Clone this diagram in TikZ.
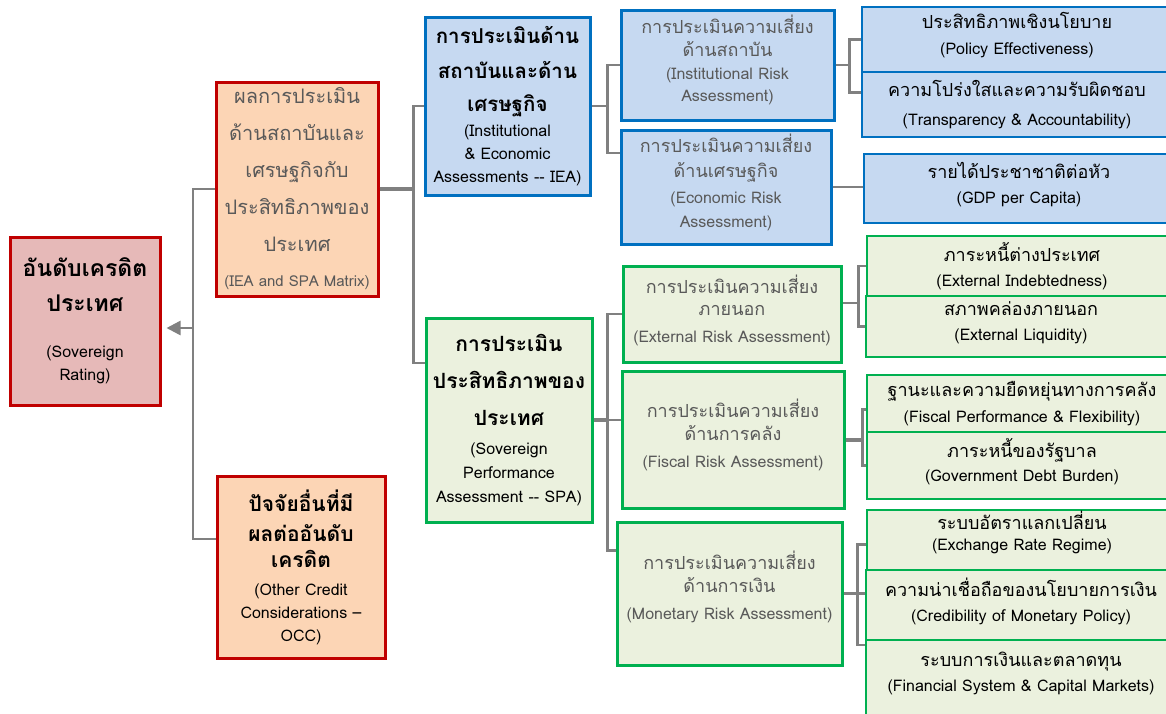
\documentclass[tikz,border=0pt]{standalone}
\usepackage{xcolor}
\usepackage{fontspec}
\setmainfont[Script=Thai]{Loma}
\usepackage{tikz}
\usetikzlibrary{positioning, arrows.meta}

\definecolor{redline}{RGB}{192,0,0}
\definecolor{rootfill}{RGB}{230,185,184}
\definecolor{peach}{RGB}{252,213,181}
\definecolor{blueline}{RGB}{0,112,192}
\definecolor{bluefill}{RGB}{198,217,241}
\definecolor{greenline}{RGB}{0,176,80}
\definecolor{greenfill}{RGB}{235,241,222}
\definecolor{greytext}{RGB}{89,89,89}
\definecolor{connline}{RGB}{128,128,128}

\newcommand\thb[2][21]{{\fontsize{#1}{24}\selectfont\bfseries #2}}
\newcommand\thm[2][18]{{\fontsize{#1}{24}\selectfont #2}}
\newcommand\en[1]{{\fontsize{16}{24}\selectfont #1}}
\newcommand\lift[1]{\\[#1pt]}

\tikzset{
  box/.style={draw, line width=3pt, align=center, inner sep=1pt, font=\fontsize{16}{24}\selectfont},
  rootbox/.style={box, draw=redline, fill=rootfill},
  matbox/.style={box, draw=redline, fill=peach},
  ieabox/.style={box, draw=blueline, fill=bluefill},
  spabox/.style={box, draw=greenline, fill=greenfill},
  leafblue/.style={ieabox, line width=2pt, minimum width=310},
  leafgreen/.style={spabox, line width=2pt, minimum width=310},
  conn/.style={draw=connline, line width=2.5pt},
}

\begin{document}
\begin{tikzpicture}[x=1pt, y=-1pt]
\useasboundingbox (0,0) rectangle (1166,713);
\clip (0,0) rectangle (1166,713);
\fill[white] (0,0) rectangle (1166,713);

\node[rootbox, minimum width=150, minimum height=168] (rating) at (85,321)
  {\thb[23]{อันดับเครดิต}\\[11pt] \thb[23]{ประเทศ}\\[22pt] \en{(Sovereign}\\[-1pt] \en{Rating)}};
\node[matbox, minimum width=162, minimum height=214, text=greytext] (mat) at (297,189)
  {\thm[20]{ผลการประเมิน}\\[13pt] \thm[20]{ด้านสถาบันและ}\\[13pt] \thm[20]{เศรษฐกิจกับ}\\[13pt] \thm[20]{ประสิทธิภาพของ}\\[13pt] \thm[20]{ประเทศ}\\[11pt] {\fontsize{15}{16}\selectfont (IEA and SPA Matrix)}};
\node[matbox, minimum width=168, minimum height=182] (occ) at (301,567)
  {\thb{ปัจจัยอื่นที่มี}\\[6pt] \thb{ผลต่ออันดับ}\\[2pt] \thb{เครดิต}\\[4pt] \en{(Other Credit}\\[-1pt] \en{Considerations --}\\[-1pt] \en{OCC)}};

\node[ieabox, minimum width=165, minimum height=178] (iea) at (507.5,106)
  {\thb[20.5]{การประเมินด้าน}\\[11pt] \thb[20.5]{สถาบันและด้าน}\\[9pt] \thb[20.5]{เศรษฐกิจ}\\[1pt] \en{(Institutional}\\[-1pt] \en{\& Economic}\\[-1pt] \en{Assessments -{}- IEA)}};
\node[spabox, minimum width=166, minimum height=204] (spa) at (509,420)
  {\thb{การประเมิน}\\[13pt] \thb{ประสิทธิภาพของ}\\[13pt] \thb{ประเทศ}\\[5pt] \en{(Sovereign}\\ \en{Performance}\\ \en{Assessment -{}- SPA)}};

\node[ieabox, minimum width=213, minimum height=110, text=greytext] (inst) at (727.5,65)
  {\thm{การประเมินความเสี่ยง}\\[-1pt] \thm{ด้านสถาบัน}\\[-1pt] \en{(Institutional Risk}\\[-2pt] \en{Assessment)}\lift{-11}};
\node[ieabox, minimum width=210, minimum height=114, text=greytext] (econ) at (726,187)
  {\thm{การประเมินความเสี่ยง}\\[1pt] \thm{ด้านเศรษฐกิจ}\\[2pt] \en{(Economic Risk}\\ \en{Assessment)}\lift{-11}};
\node[spabox, minimum width=218, minimum height=96, text=greytext] (ext) at (732,314)
  {\thm{การประเมินความเสี่ยง}\\[-2pt] \thm{ภายนอก}\\[3pt] \en{(External Risk Assessment)}\lift{-13}};
\node[spabox, minimum width=222, minimum height=137, text=greytext] (fisc) at (733,439.5)
  {\thm{การประเมินความเสี่ยง}\\[-1pt] \thm{ด้านการคลัง}\\[3pt] \en{(Fiscal Risk Assessment)}\lift{-11}};
\node[spabox, minimum width=225, minimum height=143, text=greytext] (mon) at (729.5,593.5)
  {\thm{การประเมินความเสี่ยง}\\[-1pt] \thm{ด้านการเงิน}\\[3pt] \en{(Monetary Risk Assessment)}\lift{-7}};

\node[leafblue, minimum height=65] (policy) at (1017,39.5)
  {\thm{ประสิทธิภาพเชิงนโยบาย}\\[2pt] \en{(Policy Effectiveness)}\lift{-11}};
\node[leafblue, minimum height=65] (transp) at (1017,104.5)
  {\thm{ความโปร่งใสและความรับผิดชอบ}\\[5pt] \en{(Transparency \& Accountability)}};
\node[leafblue, minimum height=69] (gdp) at (1019,188.5)
  {\thm{รายได้ประชาชาติต่อหัว}\\[1pt] \en{(GDP per Capita)}\lift{-12}};
\node[leafgreen, minimum height=60] (indebt) at (1022,266)
  {\thm{ภาระหนี้ต่างประเทศ}\\[1pt] \en{(External Indebtedness)}};
\node[leafgreen, minimum height=61] (liquid) at (1021,326.5)
  {\thm{สภาพคล่องภายนอก}\\[1pt] \en{(External Liquidity)}\lift{-14}};
\node[leafgreen, minimum height=57] (fperf) at (1022,403.5)
  {\thm{ฐานะและความยืดหยุ่นทางการคลัง}\\[2pt] \en{(Fiscal Performance \& Flexibility)}};
\node[leafgreen, minimum height=67] (gdebt) at (1022,465.5)
  {\thm{ภาระหนี้ของรัฐบาล}\\ \en{(Government Debt Burden)}\lift{-13}};
\node[leafgreen, minimum height=59] (exch) at (1022,540.5)
  {\thm{ระบบอัตราแลกเปลี่ยน}\\[-3pt] \en{(Exchange Rate Regime)}\lift{-4}};
\node[leafgreen, minimum height=70] (cred) at (1021,605)
  {\thm{ความน่าเชื่อถือของนโยบายการเงิน}\\[1pt] \en{(Credibility of Monetary Policy)}\lift{-13}};
\node[leafgreen, minimum height=80] (fin) at (1021,680)
  {\thm{ระบบการเงินและตลาดทุน}\\[1pt] \en{(Financial System \& Capital Markets)}\lift{-7}};

% connectors
\coordinate (j0) at (193,328);
\draw[conn, -{Triangle[width=14pt,length=14pt]}, shorten >=5pt] (j0) -- (rating.east |- j0);
\draw[conn] (mat.west) -| (j0) |- ([yshift=28]occ.west);
\draw[conn, line width=4pt] (mat.east) -- ++(34,0) coordinate (j1);
\draw[conn] (iea.west) -| (j1) |- ([yshift=57]spa.west);

\draw[conn] (iea.east) -- ++(16,0) coordinate (j2);
\draw[conn] (inst.west) -| (j2) |- ([yshift=34]econ.west);
\draw[conn] (inst.east) -- ++(14,0) coordinate (j3);
\draw[conn] (policy.west) -| (j3) |- ([yshift=12]transp.west);
\draw[conn] (econ.east) -- (gdp.west |- econ.east);

\draw[conn, line width=4pt] (spa.east) -- ++(14,0) coordinate (j4);
\draw[conn] (ext.west) -| (j4) |- ([yshift=43]mon.west);
\draw[conn] (j4) -- (fisc.west |- j4);
\draw[conn] ([yshift=11]ext.east) -- ++(16,0) coordinate (j5);
\draw[conn] (indebt.west) -| (j5) |- (liquid.west);
\draw[conn, line width=4pt] (fisc.east) -- ++(17,0) coordinate (j6);
\draw[conn] ([yshift=-6]fperf.west) -| (j6) |- (gdebt.west);
\draw[conn] (mon.east) -- ++(14,0) coordinate (j7);
\draw[conn] ([yshift=-4]exch.west) -| (j7) |- ([yshift=35]fin.west);
\draw[conn] (j7) -- (cred.west |- j7);
\end{tikzpicture}
\end{document}
